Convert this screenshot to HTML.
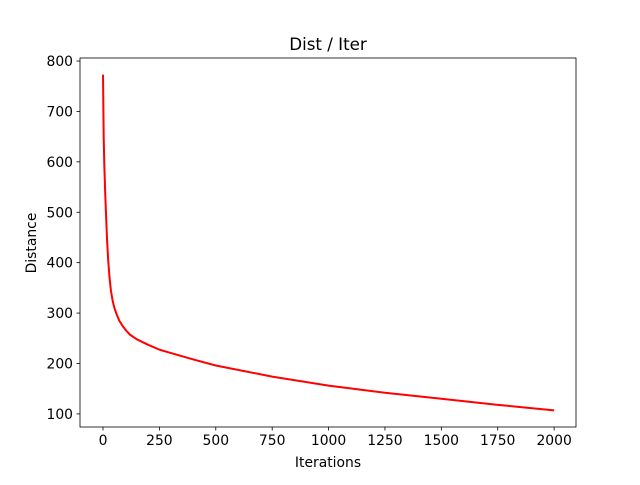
<!DOCTYPE html>
<html><head><meta charset="utf-8"><style>
body{margin:0;background:#fff}
svg text{font-family:"DejaVu Sans","Liberation Sans",sans-serif;font-size:13.9px;fill:#000}
</style></head><body>
<svg id="c" width="640" height="480">
<rect x="0" y="0" width="640" height="480" fill="#fff"/>
<text x="328" y="50" text-anchor="middle" style="font-size:16.7px">Dist / Iter</text>
<text x="328" y="467" text-anchor="middle">Iterations</text>
<text x="36" y="243" text-anchor="middle" transform="rotate(-90 36 243)">Distance</text>
<g id="ticks"></g>
<path id="line" fill="none" stroke="#ff0000" stroke-width="2" stroke-linejoin="round"/>
<rect x="80" y="58" width="496" height="369" fill="none" stroke="#000" stroke-width="0.8"/>
</svg>
<script>
const iterations=[0,3,6,10,13,18,23,29,35,42,50,60,72,89,105,120,150,200,253,300,400,500,750,1000,1250,1500,1750,2000];
const distances=[773,650,590,535,500,445,405,370,345,326,311,298,285,273,264,257,248,237,227,221,208,196,174,156,142,130,118,107];
const xTicks=[0,250,500,750,1000,1250,1500,1750,2000];
const yTicks=[100,200,300,400,500,600,700,800];
const L=80,R=576,T=58,B=427,xmin=-102,xmax=2097,ymin=74,ymax=806;
const sx=v=>L+(v-xmin)/(xmax-xmin)*(R-L);
const sy=v=>B-(v-ymin)/(ymax-ymin)*(B-T);
const NS="http://www.w3.org/2000/svg",g=document.getElementById('ticks');
function mk(t,a){const e=document.createElementNS(NS,t);for(const k in a)e.setAttribute(k,a[k]);g.appendChild(e);return e;}
xTicks.forEach(v=>{const x=sx(v);
const l=mk('line',{x1:x,x2:x,y1:B,y2:B+3.5,stroke:'#000','stroke-width':0.8});


const t=mk('text',{x:x,y:B+18,'text-anchor':'middle'});t.textContent=v;

});
yTicks.forEach(v=>{const y=sy(v);
const l=mk('line',{x1:L-3.5,x2:L,y1:y,y2:y,stroke:'#000','stroke-width':0.8});


const t=mk('text',{x:L-7,y:y+5,'text-anchor':'end'});t.textContent=v;

});
document.getElementById('line').setAttribute('d',iterations.map((v,i)=>(i?'L':'M')+sx(v).toFixed(2)+','+sy(distances[i]).toFixed(2)).join(''));
</script>
</body></html>
